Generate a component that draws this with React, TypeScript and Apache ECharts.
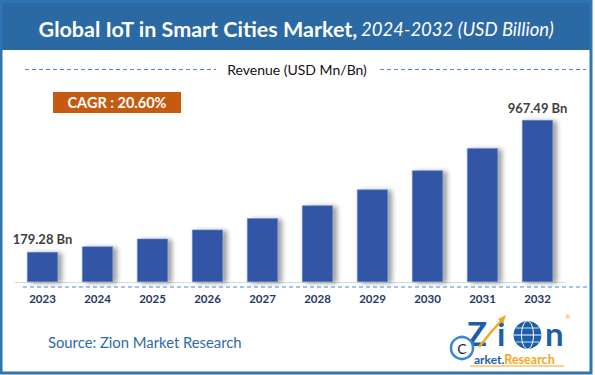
import React, { useEffect, useRef } from "react";
import * as echarts from "echarts";

const categories = ["2023", "2024", "2025", "2026", "2027", "2028", "2029", "2030", "2031", "2032"];
const revenue = [179.28, 213, 259, 313, 381, 458, 553, 667, 800, 967.49];
const labelled = [0, 9];
const titleBold = "Global IoT in Smart Cities Market,";
const titleItalic = "2024-2032 (USD Billion)";
const subtitle = "Revenue (USD Mn/Bn)";
const cagrText = "CAGR : 20.60%";
const sourceText = "Source: Zion Market Research";

const FONT = "Lato, 'Open Sans', sans-serif";
const LOGO_BLUE = "#1d5ea8";
const LOGO_ORANGE = "#f5a623";

export default function App() {
  const ref = useRef<HTMLDivElement>(null);
  useEffect(() => {
    if (!ref.current) return;
    const chart = echarts.init(ref.current, null, { renderer: "svg" });
    const data = revenue.map((v, i) => ({
      value: v,
      label: labelled.includes(i)
        ? {
            show: true,
            position: "top",
            distance: 6,
            formatter: () => `${v.toFixed(2)} Bn`,
            color: "#404040",
            fontWeight: "bold",
            fontSize: 13,
            fontFamily: FONT,
          }
        : { show: false },
    }));
    chart.setOption({
      animation: false,
      backgroundColor: "#ffffff",
      grid: { left: 15, right: 30, top: 114.6, bottom: 93, containLabel: false },
      xAxis: {
        type: "category",
        data: categories,
        axisLine: { show: true, lineStyle: { color: "#d9d9d9", width: 1 } },
        axisTick: { show: false },
        axisLabel: {
          color: "#1f3864",
          fontWeight: "bold",
          fontSize: 11.5,
          fontFamily: FONT,
          margin: 10,
        },
      },
      yAxis: { type: "value", min: 0, max: 1000, show: false, splitLine: { show: false } },
      series: [
        {
          type: "bar",
          data,
          barWidth: 31,
          itemStyle: {
            color: "#3157a5",
            borderColor: "#6a8ccc",
            borderWidth: 0.6,
            shadowColor: "rgba(0,0,0,0.4)",
            shadowBlur: 5,
            shadowOffsetX: 4,
            shadowOffsetY: 1,
          },
        },
      ],
      graphic: [
        { type: "rect", z: 0, shape: { x: 2, y: 3, width: 589, height: 47 }, style: { fill: "#2b69a5" } },
        {
          type: "rect",
          z: 1,
          shape: { x: 1, y: 1.5, width: 590, height: 371.5 },
          style: { fill: "none", stroke: "#2e75b6", lineWidth: 3 },
        },
        {
          type: "text",
          x: 296,
          y: 29,
          style: {
            text: `{b|${titleBold}} {i|${titleItalic}}`,
            align: "center",
            verticalAlign: "middle",
            rich: {
              b: { fill: "#ffffff", fontWeight: "bold", fontSize: 21.5, fontFamily: FONT },
              i: { fill: "#ffffff", fontStyle: "italic", fontSize: 18.5, fontFamily: FONT },
            },
          },
        },
        {
          type: "text",
          x: 297,
          y: 69,
          style: {
            text: subtitle,
            align: "center",
            verticalAlign: "middle",
            fill: "#111111",
            fontSize: 14,
            fontFamily: FONT,
          },
        },
        {
          type: "line",
          shape: { x1: 25, y1: 69.5, x2: 216, y2: 69.5 },
          style: { stroke: "#4f86d0", lineWidth: 1, lineDash: [4, 3] },
        },
        {
          type: "line",
          shape: { x1: 380, y1: 69.5, x2: 586, y2: 69.5 },
          style: { stroke: "#4f86d0", lineWidth: 1, lineDash: [4, 3] },
        },
        { type: "rect", shape: { x: 53, y: 92, width: 128, height: 21 }, style: { fill: "#c55a11" } },
        {
          type: "text",
          x: 117,
          y: 102.5,
          style: {
            text: cagrText,
            align: "center",
            verticalAlign: "middle",
            fill: "#ffffff",
            fontWeight: "bold",
            fontSize: 14.5,
            fontFamily: FONT,
          },
        },
        {
          type: "line",
          shape: { x1: 23, y1: 287, x2: 590, y2: 287 },
          style: { stroke: "#4f86d0", lineWidth: 1, lineDash: [4, 3] },
        },
        {
          type: "text",
          x: 48,
          y: 342,
          style: {
            text: sourceText,
            align: "left",
            verticalAlign: "middle",
            fill: "#2e6aa6",
            fontSize: 14.8,
            fontFamily: FONT,
          },
        },
        // Logo
        {
          type: "text",
          x: 467,
          y: 346,
          style: {
            text: "Z",
            align: "left",
            verticalAlign: "bottom",
            fill: LOGO_BLUE,
            fontWeight: "bold",
            fontSize: 33,
            lineHeight: 26,
            fontFamily: FONT,
          },
        },
        {
          type: "text",
          x: 497,
          y: 346,
          style: {
            text: "i",
            align: "left",
            verticalAlign: "bottom",
            fill: LOGO_BLUE,
            fontWeight: "bold",
            fontSize: 33,
            lineHeight: 26,
            fontFamily: FONT,
          },
        },
        {
          type: "polyline",
          shape: { points: [[479, 347], [492, 331], [502, 320]] },
          style: { stroke: LOGO_ORANGE, lineWidth: 2.5, fill: "none" },
        },
        {
          type: "polygon",
          shape: { points: [[506, 315], [498, 319], [503, 324]] },
          style: { fill: LOGO_ORANGE },
        },
        { type: "circle", shape: { cx: 527.5, cy: 335, r: 14 }, style: { fill: LOGO_BLUE } },
        { type: "ellipse", shape: { cx: 527.5, cy: 335, rx: 6, ry: 14 }, style: { fill: "none", stroke: "#ffffff", lineWidth: 1 } },
        { type: "line", shape: { x1: 513.5, y1: 335, x2: 541.5, y2: 335 }, style: { stroke: "#ffffff", lineWidth: 1 } },
        { type: "line", shape: { x1: 516, y1: 328, x2: 539, y2: 328 }, style: { stroke: "#ffffff", lineWidth: 0.8 } },
        { type: "line", shape: { x1: 516, y1: 342, x2: 539, y2: 342 }, style: { stroke: "#ffffff", lineWidth: 0.8 } },
        {
          type: "text",
          x: 545,
          y: 346,
          style: {
            text: "n",
            align: "left",
            verticalAlign: "bottom",
            fill: LOGO_BLUE,
            fontWeight: "bold",
            fontSize: 33,
            lineHeight: 26,
            fontFamily: FONT,
          },
        },
        {
          type: "text",
          x: 568,
          y: 316,
          style: { text: "®", align: "center", verticalAlign: "middle", fill: LOGO_ORANGE, fontSize: 6, fontFamily: FONT },
        },
        {
          type: "text",
          x: 474,
          y: 359,
          style: {
            text: "{a|arket.}{b|Research}",
            align: "left",
            verticalAlign: "middle",
            rich: {
              a: { fill: LOGO_BLUE, fontWeight: "bold", fontSize: 12, fontFamily: FONT },
              b: { fill: LOGO_ORANGE, fontWeight: "bold", fontSize: 12.5, fontFamily: FONT },
            },
          },
        },
        {
          type: "line",
          shape: { x1: 470, y1: 366, x2: 564, y2: 366 },
          style: { stroke: LOGO_ORANGE, lineWidth: 1 },
        },
        { type: "circle", shape: { cx: 462, cy: 348, r: 11 }, style: { fill: "#ffffff", stroke: "#3a86d6", lineWidth: 2.5 } },
        {
          type: "text",
          x: 462,
          y: 348,
          style: {
            text: "C",
            align: "center",
            verticalAlign: "middle",
            fill: "#0d1b3e",
            fontSize: 14,
            fontFamily: FONT,
          },
        },
      ],
    });
    return () => chart.dispose();
  }, []);
  return (
    <div
      ref={ref}
      style={{ position: "fixed", left: 0, top: 0, width: 595, height: 375 }}
    />
  );
}
